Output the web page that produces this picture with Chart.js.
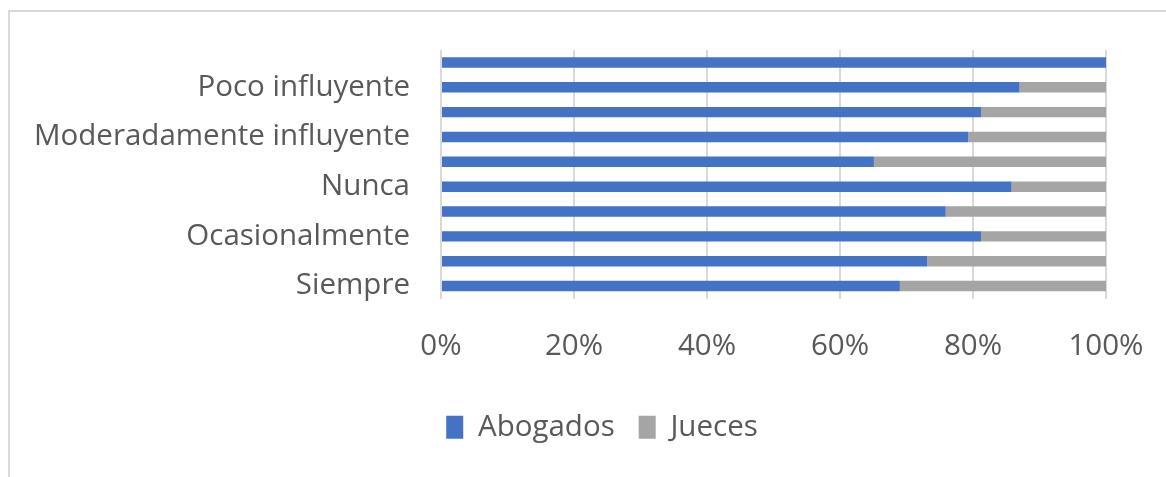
<!DOCTYPE html>
<html>
<head>
<meta charset="utf-8">
<script src="https://cdn.jsdelivr.net/npm/chart.js@4/dist/chart.umd.min.js"></script>
<style>
    html, body { margin: 0; padding: 0; background: #ffffff; overflow: hidden; }
    .frame {
        position: absolute;
        left: 8px;
        top: 10px;
        width: 1186px;
        height: 480px;
        border-left: 2px solid #d9d9d9;
        border-top: 2px solid #d9d9d9;
        box-sizing: border-box;
    }
    #chart { position: absolute; left: 0; top: 0; }
</style>
</head>
<body>
<div class="frame">
    <canvas id="chart" width="1184" height="465"></canvas>
</div>
<script>
// Categories, listed bottom to top as in the source spreadsheet
// (only every second label is shown on the axis)
const categories = [
    "Siempre", "Casi siempre", "Ocasionalmente", "Casi nunca", "Nunca",
    "Muy influyente", "Moderadamente influyente", "Influyente", "Poco influyente", "Nada influyente"
];
const abogados = [69.0, 73.1, 81.2, 75.9, 85.8, 65.1, 79.3, 81.2, 87.0, 100];
const jueces   = [31.0, 26.9, 18.8, 24.1, 14.2, 34.9, 20.7, 18.8, 13.0, 0];
const xTicks = [0, 20, 40, 60, 80, 100];

const FONT = "'Open Sans', sans-serif";
const TEXT = '#595959';
const SIZE = 29.5;

new Chart(document.getElementById('chart'), {
    type: 'bar',
    data: {
        labels: categories,
        datasets: [
            { label: 'Abogados', data: abogados, backgroundColor: '#4472c4', barPercentage: 0.42, categoryPercentage: 1 },
            { label: 'Jueces', data: jueces, backgroundColor: '#a5a5a5', barPercentage: 0.42, categoryPercentage: 1 }
        ]
    },
    options: {
        indexAxis: 'y',
        responsive: false,
        animation: false,
        layout: { padding: { top: 38, right: 0, bottom: 25, left: 0 } },
        scales: {
            x: {
                stacked: true,
                min: 0,
                max: 100,
                afterBuildTicks: (axis) => { axis.ticks = xTicks.map(v => ({ value: v })); },
                ticks: {
                    color: TEXT,
                    font: { family: FONT, size: SIZE },
                    padding: 30,
                    maxRotation: 0,
                    callback: (v) => v + '%'
                },
                grid: { color: '#d9d9d9', lineWidth: 2, drawTicks: false },
                border: { display: false },
                afterFit: (axis) => {
                    axis.height = 90;
                    axis.paddingLeft = 0;
                    axis.paddingRight = 88;
                }
            },
            y: {
                stacked: true,
                reverse: true,
                ticks: {
                    color: TEXT,
                    font: { family: FONT, size: SIZE },
                    padding: 31,
                    autoSkip: false,
                    callback: function (v, i) { return i % 2 === 0 ? this.getLabelForValue(v) : ''; }
                },
                grid: { display: false, drawTicks: false },
                border: { display: false },
                afterFit: (axis) => {
                    axis.width = 431;
                    axis.paddingTop = 0;
                    axis.paddingBottom = 0;
                }
            }
        },
        plugins: {
            legend: {
                position: 'bottom',
                labels: {
                    color: TEXT,
                    font: { family: FONT, size: SIZE },
                    boxWidth: 17,
                    boxHeight: 23,
                    padding: 24,
                    useBorderRadius: false
                }
            },
            tooltip: { enabled: false }
        }
    }
});
</script>
</body>
</html>
